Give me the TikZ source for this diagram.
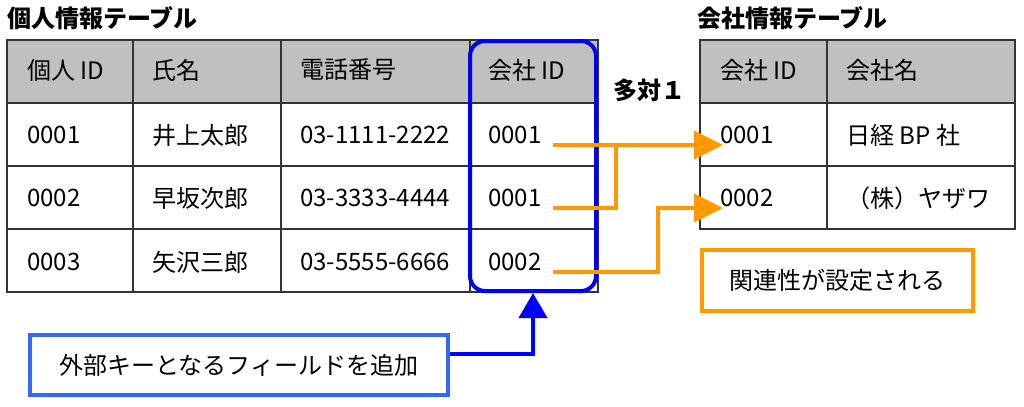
\documentclass[tikz,border=0pt]{standalone}
\usepackage{fontspec}
\setmainfont{Noto Sans CJK JP}
\usetikzlibrary{arrows.meta}
\definecolor{linkorange}{RGB}{255,153,0}
\definecolor{keyblue}{RGB}{0,0,255}
\definecolor{noteblue}{RGB}{51,102,255}
\definecolor{headgray}{RGB}{192,192,192}

\begin{document}
\begin{tikzpicture}[x=0.03cm, y=-0.03cm,
    cell/.style={anchor=west, inner sep=0pt, font=\fontsize{20.5}{23}\selectfont},
    title/.style={anchor=west, inner sep=0pt, font=\fontsize{20.5}{23}\selectfont\bfseries},
    grid line/.style={line width=1.2pt, black!80},
    link/.style={linkorange, line width=0.12cm},
    linkarrow/.style={link, -{Triangle[length=0.87cm, width=0.84cm]}}]
    \useasboundingbox (0,0) rectangle (1024,406);

    \fill[headgray] (7,40) rectangle (598,103);
    \fill[headgray] (700,40) rectangle (1015,103);

    \draw[grid line] (7,40) rectangle (598,292);
    \draw[grid line] (7,103) -- (598,103) (7,166) -- (598,166) (7,229) -- (598,229);
    \draw[grid line] (133,40) -- (133,292) (281,40) -- (281,292) (470,40) -- (470,292);

    \draw[grid line] (700,40) rectangle (1015,229);
    \draw[grid line] (700,103) -- (1015,103) (700,166) -- (1015,166);
    \draw[grid line] (827,40) -- (827,229);

    \node[title] (ptitle) at (7,18) {個人情報テーブル};
    \node[title] (ctitle) at (697,18) {会社情報テーブル};
    \node[title] (ratio) at (613,90) {多対１};

    \node[cell] (ph1) at (27,70) {個人 ID};
    \node[cell] (ph2) at (152,70) {氏名};
    \node[cell] (ph3) at (300,70) {電話番号};
    \node[cell] (fh) at (488,70) {会社 ID};

    \node[cell] (p1) at (27,135) {0001};
    \node[cell] (n1) at (152,135) {井上太郎};
    \node[cell] (t1) at (300,135) {03-1111-2222};
    \node[cell] (f1) at (488,135) {0001};

    \node[cell] (p2) at (27,198) {0002};
    \node[cell] (n2) at (152,198) {早坂次郎};
    \node[cell] (t2) at (300,198) {03-3333-4444};
    \node[cell] (f2) at (488,198) {0001};

    \node[cell] (p3) at (27,262) {0003};
    \node[cell] (n3) at (152,262) {矢沢三郎};
    \node[cell] (t3) at (300,262) {03-5555-6666};
    \node[cell] (f3) at (488,262) {0002};

    \node[cell] (ch1) at (720,70) {会社 ID};
    \node[cell] (ch2) at (846,70) {会社名};
    \node[cell] (c1) at (720,135) {0001};
    \node[cell] (m1) at (846,135) {日経 BP 社};
    \node[cell] (c2) at (720,198) {0002};
    \node[cell] (m2) at (846,198) {（株）ヤザワ};

    \node[draw=keyblue, line width=0.12cm, rounded corners=0.45cm,
        minimum width=3.78cm, minimum height=7.5cm] (fk) at (533,166) {};

    \node[draw=noteblue, line width=0.12cm, minimum width=12.54cm, minimum height=1.8cm,
        font=\fontsize{20.5}{23}\selectfont] (note) at (239,365) {外部キーとなるフィールドを追加};
    \node[draw=linkorange, line width=0.12cm, minimum width=8.13cm, minimum height=1.83cm,
        font=\fontsize{20.5}{23}\selectfont] (rel) at (837.5,280.5) {関連性が設定される};

    \draw[keyblue, line width=0.12cm, -{Triangle[length=0.75cm, width=0.84cm]}]
        ([yshift=0.33cm]note.east) -| (fk.south);

    \draw[linkarrow] ([xshift=1.95cm, yshift=-0.3cm]f1.west) -- ([xshift=0.09cm, yshift=-0.3cm]c1.west);
    \draw[link] ([xshift=1.95cm, yshift=-0.3cm]f2.west) -- ++(63,0) -- ++(0,-63);
    \draw[linkarrow] ([xshift=1.95cm, yshift=-0.3cm]f3.west) -- ++(105,0) |- ([xshift=0.09cm, yshift=-0.3cm]c2.west);
\end{tikzpicture}
\end{document}
